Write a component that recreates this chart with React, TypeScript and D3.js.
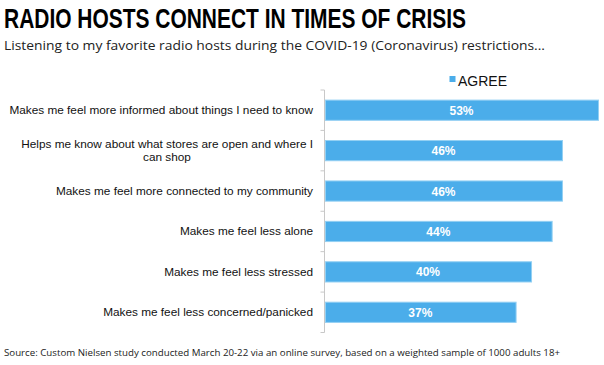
import * as d3 from "d3";

const categories = [
  ["Makes me feel more informed about things I need to know"],
  ["Helps me know about what stores are open and where I", "can shop"],
  ["Makes me feel more connected to my community"],
  ["Makes me feel less alone"],
  ["Makes me feel less stressed"],
  ["Makes me feel less concerned/panicked"],
];
const agree = [53, 46, 46, 44, 40, 37];
const seriesName = "AGREE";

const W = 604;
const H = 365;
const blue = "#4badea";

export default function App() {
  const x = d3.scaleLinear().domain([0, 53]).range([325, 598]);
  const y = d3
    .scaleBand<number>()
    .domain(d3.range(categories.length))
    .range([90, 332.5])
    .paddingInner(0.5)
    .paddingOuter(0.25);
  const step = y.step();
  const boundaries = d3.range(categories.length + 1).map((i) => 90 + i * step);

  return (
    <svg width={W} height={H} style={{ position: "absolute", left: 0, top: 0, background: "#fff" }}>
      {/* condensed bold title: Arial bold squeezed horizontally */}
      <text
        transform="translate(4,28) scale(0.762,1)"
        fontFamily="Liberation Sans, Arial, sans-serif"
        fontWeight="bold"
        fontSize={27.5}
        fill="#000"
      >
        RADIO HOSTS CONNECT IN TIMES OF CRISIS
      </text>
      <text x={4} y={50} fontFamily="Open Sans" fontSize={13.5} fill="#222" textLength={541} lengthAdjust="spacingAndGlyphs">
        Listening to my favorite radio hosts during the COVID-19 (Coronavirus) restrictions...
      </text>

      {/* legend */}
      <rect x={449.5} y={76} width={6} height={6} fill={blue} />
      <text x={458} y={86} fontFamily="Liberation Sans, Arial" fontSize={14} fill="#111">
        {seriesName}
      </text>

      {/* axis */}
      <line x1={324.5} x2={324.5} y1={90} y2={332.5} stroke="#c8c8c8" />
      {boundaries.map((b, i) => (
        <line key={i} x1={320.5} x2={324.5} y1={b} y2={b} stroke="#c8c8c8" />
      ))}

      {agree.map((v, i) => (
        <g key={i}>
          <rect
            x={x(0) + 0.5}
            y={y(i)!}
            width={x(v) - x(0)}
            height={y.bandwidth()}
            fill={blue}
            stroke="#93d0f3"
            strokeWidth={1}
          />
          <text
            x={(x(0) + x(v)) / 2}
            y={y(i)! + y.bandwidth() / 2 + 4.5}
            textAnchor="middle"
            fontFamily="Liberation Sans, Arial"
            fontWeight="bold"
            fontSize={12}
            fill="#fff"
          >
            {v}%
          </text>
        </g>
      ))}

      {categories.map((lines, i) => {
        const cy = y(i)! + y.bandwidth() / 2;
        const lh = 13;
        const start = cy - ((lines.length - 1) * lh) / 2 + 4;
        return lines.map((l, j) => (
          <text
            key={`${i}-${j}`}
            x={j === 0 ? 313 : 167}
            y={start + j * lh}
            textAnchor={j === 0 ? "end" : "middle"}
            fontFamily="Liberation Sans, Arial"
            fontSize={11.8}
            fill="#111"
          >
            {l}
          </text>
        ));
      })}

      <text x={4} y={356} fontFamily="Open Sans" fontSize={9.6} fill="#222" textLength={556} lengthAdjust="spacingAndGlyphs">
        Source: Custom Nielsen study conducted March 20-22 via an online survey, based on a weighted sample of 1000 adults 18+
      </text>
    </svg>
  );
}
